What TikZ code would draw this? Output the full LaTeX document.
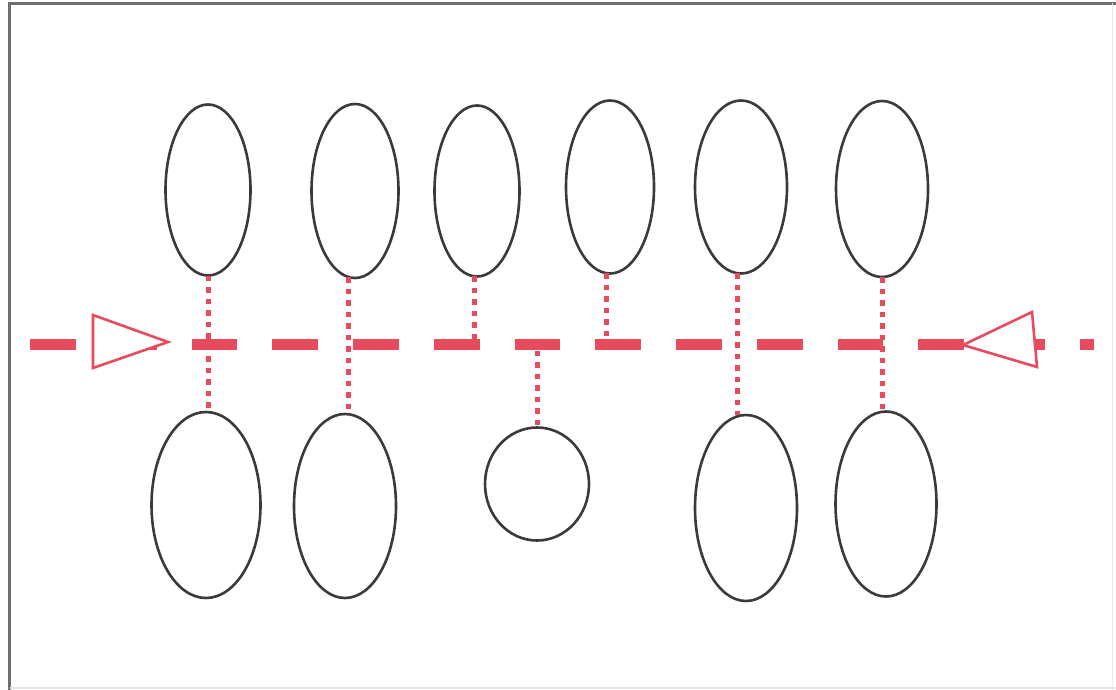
\documentclass[tikz,border=0pt]{standalone}
\usetikzlibrary{shapes.geometric}
\definecolor{redline}{RGB}{232,74,94}
\definecolor{ringgray}{RGB}{58,58,58}
\definecolor{framegray}{RGB}{110,110,110}
\begin{document}
\begin{tikzpicture}[x=1pt,y=-1pt,
  ring/.style={ellipse,draw=ringgray,line width=2.6pt,inner sep=0pt,outer sep=0pt},
  mainline/.style={draw=redline,line width=11pt,dash pattern=on 45.75pt off 35pt},
  tie/.style={draw=redline,line width=5pt,dash pattern=on 5.5pt off 6pt},
  marker/.style={draw=redline,line width=2.6pt,fill=white,line join=miter}]
\useasboundingbox (0,0) rectangle (1116,690);
\fill[white] (0,0) rectangle (1116,690);
% frame
\draw[framegray,line width=2.5pt] (1116,3.5) -- (9.5,3.5) -- (9.5,690);
\draw[black!10,line width=1.5pt] (9.5,688) -- (1116,688);
\draw[black!8,line width=1pt] (1112,3.5) -- (1112,690);

% top row
\node[ring,minimum width=85pt,minimum height=171pt] (t1) at (208,190) {};
\node[ring,minimum width=87pt,minimum height=174pt] (t2) at (355,191) {};
\node[ring,minimum width=85pt,minimum height=171pt] (t3) at (477,191) {};
\node[ring,minimum width=88pt,minimum height=173pt] (t4) at (610,187) {};
\node[ring,minimum width=92pt,minimum height=173pt] (t5) at (741,187) {};
\node[ring,minimum width=92pt,minimum height=176pt] (t6) at (882,189) {};
% bottom row
\node[ring,minimum width=109pt,minimum height=186pt] (b1) at (206,505) {};
\node[ring,minimum width=102pt,minimum height=184pt] (b2) at (345,506) {};
\node[ring,minimum width=104pt,minimum height=113pt] (c)  at (537,484) {};
\node[ring,minimum width=102pt,minimum height=186pt] (b4) at (746,508) {};
\node[ring,minimum width=101pt,minimum height=185pt] (b5) at (886,504) {};

% main line
\coordinate (L) at (30,344.5);
\coordinate (R) at (1094,344.5);
\draw[mainline] (L) -- (R);

% ties
\draw[tie] (t1.south) -- (t1.south |- b1.north);
\draw[tie] (t2.-94) -- (t2.-94 |- b2.north);
\draw[tie] (t3.-92) -- (t3.-92 |- L);
\draw[tie] (c.north |- L) ++(0,6) -- (c.north);
\draw[tie] (t4.-92) -- (t4.-92 |- L);
\draw[tie] (t5.-92) -- (t5.-92 |- b4.north);
\draw[tie] (t6.south) -- (t6.south |- b5.north);

% direction markers
\draw[marker] (93,315) -- (93,368) -- (168,342) -- cycle;
\draw[marker] (963,345) -- (1032,312) -- (1037,367) -- cycle;
\end{tikzpicture}
\end{document}
